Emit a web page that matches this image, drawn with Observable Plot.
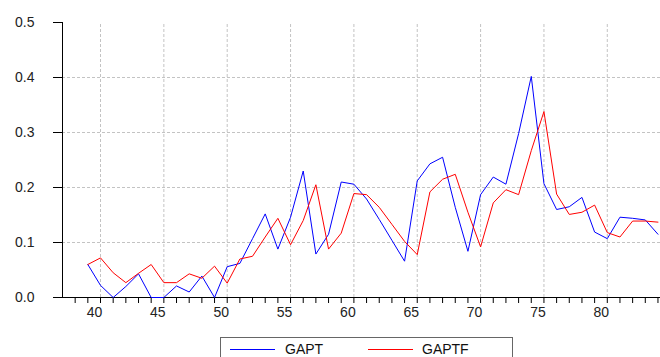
<!DOCTYPE html>
<html>
<head>
<meta charset="utf-8">
<script src="https://cdn.jsdelivr.net/npm/d3@7"></script>
<script src="https://cdn.jsdelivr.net/npm/@observablehq/plot@0.6"></script>
<style>
  html, body { margin: 0; padding: 0; background: #fff; overflow: hidden; }
  #wrap { position: relative; width: 660px; height: 357px; font-family: "Liberation Sans", Arial, sans-serif; }
  #legend { position: absolute; left: 220px; top: 337px; width: 291px; height: 30px; border: 1.5px solid #666; background: #fff; }
  .sw { position: absolute; top: 11px; width: 45px; height: 0; border-top: 1px solid; }
  .lb { position: absolute; top: 3px; font-size: 14px; color: #111; }
</style>
</head>
<body>
<div id="wrap"></div>
<script>
const years = [39,40,41,42,43,44,45,46,47,48,49,50,51,52,53,54,55,56,57,58,59,60,61,62,63,64,65,66,67,68,69,70,71,72,73,74,75,76,77,78,79,80,81,82,83,84];
const gapt = [0.060,0.022,0,0.020,0.043,0,0,0.021,0.010,0.039,0,0.056,0.062,0.107,0.152,0.088,0.146,0.230,0.079,0.115,0.210,0.206,0.179,0.142,0.104,0.066,0.212,0.243,0.255,0.164,0.084,0.187,0.219,0.206,0.298,0.402,0.207,0.160,0.165,0.182,0.119,0.107,0.146,0.144,0.141,0.115];
const gaptf = [0.060,0.072,0.045,0.027,0.044,0.060,0.027,0.027,0.043,0.035,0.057,0.026,0.070,0.075,0.110,0.144,0.096,0.140,0.205,0.088,0.117,0.189,0.187,0.164,0.133,0.102,0.078,0.192,0.215,0.224,0.155,0.092,0.172,0.196,0.187,0.267,0.338,0.188,0.151,0.155,0.168,0.118,0.110,0.139,0.139,0.137];
const yTicks = [0,0.1,0.2,0.3,0.4,0.5];
const yGrid = [0.1,0.2,0.3,0.4];
const xLabels = [40,45,50,55,60,65,70,75,80];
const xMinor = [38,39,40,41,42,43,44,45,46,47,48,49,50,51,52,53,54,55,56,57,58,59,60,61,62,63,64,65,66,67,68,69,70,71,72,73,74,75,76,77,78,79,80,81,82,83,84];
const seriesNames = ["GAPT", "GAPTF"];
const colors = ["#0000ff", "#ff0000"];

const dataT = years.map((x, i) => ({x, y: gapt[i]}));
const dataF = years.map((x, i) => ({x, y: gaptf[i]}));

const chart = Plot.plot({
  width: 660,
  height: 357,
  marginLeft: 62,
  marginRight: 0,
  marginTop: 22,
  marginBottom: 60,
  style: {fontFamily: '"Liberation Sans", Arial, sans-serif', fontSize: "14px", color: "#222", background: "#fff"},
  x: {domain: [37, 84.2]},
  y: {domain: [0, 0.5]},
  marks: [
    Plot.gridX(xLabels, {stroke: "#aaa", strokeOpacity: 0.7, strokeDasharray: "3,2", y1: 0, y2: 0.5}),
    Plot.gridY(yGrid, {stroke: "#aaa", strokeOpacity: 0.7, strokeDasharray: "3,2"}),
    Plot.axisY(yTicks, {tickFormat: d3.format(".1f"), tickSize: 9, tickPadding: 19, fontSize: 14, stroke: "#000", label: null}),
    Plot.axisX(xMinor, {tickFormat: () => "", tickSize: 6, stroke: "#000", label: null}),
    Plot.axisX(xLabels, {tickFormat: d3.format("d"), tickSize: 0, tickPadding: 10, dx: -6, fontSize: 14, label: null}),
    Plot.ruleX([37], {y1: 0, y2: 0.5, stroke: "#000"}),
    Plot.ruleY([0], {stroke: "#000"}),
    Plot.line(dataT, {x: "x", y: "y", stroke: colors[0], strokeWidth: 1}),
    Plot.line(dataF, {x: "x", y: "y", stroke: colors[1], strokeWidth: 1})
  ]
});

const wrap = document.getElementById("wrap");
wrap.appendChild(chart);
const legend = document.createElement("div");
legend.id = "legend";
legend.innerHTML =
  `<div class="sw" style="left:9px;border-color:${colors[0]}"></div><div class="lb" style="left:64px">${seriesNames[0]}</div>` +
  `<div class="sw" style="left:147px;border-color:${colors[1]}"></div><div class="lb" style="left:201px">${seriesNames[1]}</div>`;
wrap.appendChild(legend);
</script>
</body>
</html>
